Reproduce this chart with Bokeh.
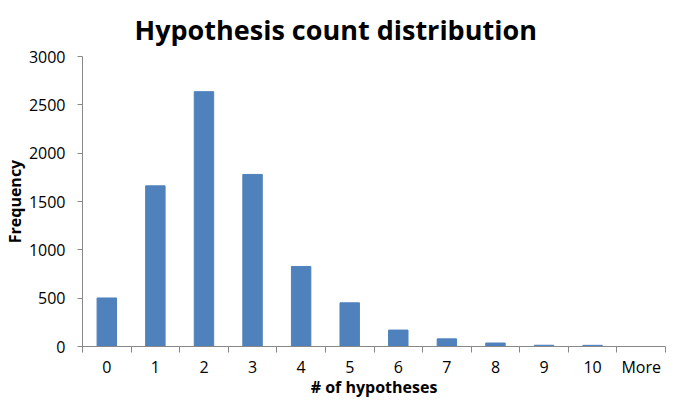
from bokeh.plotting import figure
from bokeh.models import FixedTicker, Range1d, ColumnDataSource
from bokeh.embed import file_html
from bokeh.resources import INLINE

categories = ["0", "1", "2", "3", "4", "5", "6", "7", "8", "9", "10", "More"]
frequency = [502, 1662, 2636, 1780, 828, 452, 170, 79, 36, 13, 12, 0]
y_ticks = [0, 500, 1000, 1500, 2000, 2500, 3000]

xs = list(range(len(categories)))
src = ColumnDataSource(dict(x=xs, top=frequency))

p = figure(width=669, height=400, output_backend="svg", toolbar_location=None,
           x_range=Range1d(-0.5, len(categories) - 0.5), y_range=Range1d(0, 3000),
           title="Hypothesis count distribution")
p.vbar(x="x", top="top", width=0.4, source=src, color="#4F81BD")

p.title.text_font = "Open Sans"
p.title.text_font_size = "27px"
p.title.text_font_style = "bold"
p.title.align = "left"
p.title.offset = 52
p.title.standoff = 17
p.title.text_color = "#000000"

p.min_border_left = 75
p.min_border_right = 4
p.min_border_top = 10
p.min_border_bottom = 10
p.outline_line_color = None
p.xgrid.grid_line_color = None
p.ygrid.grid_line_color = None

xt = FixedTicker(ticks=xs, minor_ticks=[i - 0.5 for i in range(len(categories) + 1)])
p.xaxis.ticker = xt
p.xaxis.major_label_overrides = {i: c for i, c in enumerate(categories)}
p.xaxis.major_tick_out = 0
p.xaxis.major_tick_in = 0
p.xaxis.minor_tick_out = 6
p.xaxis.minor_tick_in = 0
p.yaxis.ticker = FixedTicker(ticks=y_ticks)
p.yaxis.major_tick_out = 5
p.yaxis.major_tick_in = 0

for ax in (p.xaxis, p.yaxis):
    ax.axis_line_color = "#888888"
    ax.major_tick_line_color = "#888888"
    ax.minor_tick_line_color = "#888888"
    ax.major_label_text_font = "Open Sans"
    ax.major_label_text_font_size = "16px"
    ax.major_label_text_color = "#000000"
    ax.axis_label_text_font = "Open Sans"
    ax.axis_label_text_font_size = "16px"
    ax.axis_label_text_font_style = "bold"
    ax.axis_label_text_color = "#000000"
p.yaxis.minor_tick_line_color = None

p.xaxis.axis_label = "# of hypotheses"
p.yaxis.axis_label = "Frequency"
p.xaxis.axis_label_standoff = -5
p.yaxis.axis_label_standoff = 0
p.xaxis.major_label_standoff = 3
p.yaxis.major_label_standoff = 12

open("out.html", "w").write(file_html(p, INLINE))
